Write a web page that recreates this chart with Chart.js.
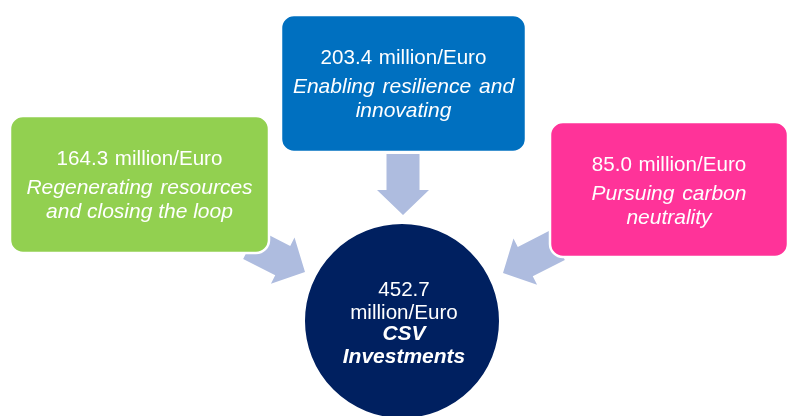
<!DOCTYPE html>
<html>
<head>
<meta charset="utf-8">
<script src="https://cdn.jsdelivr.net/npm/chart.js@4.4.1/dist/chart.umd.min.js"></script>
<style>
  html, body { margin: 0; padding: 0; background: #ffffff; }
  #wrap { width: 791px; height: 416px; }
</style>
</head>
<body>
<div id="wrap"><canvas id="csvChart" width="791" height="416"></canvas></div>
<script>
// CSV investment data (million/Euro)
const pillars = ['Regenerating resources and closing the loop', 'Enabling resilience and innovating', 'Pursuing carbon neutrality'];
const pillarLines = [['Regenerating resources', 'and closing the loop'], ['Enabling resilience and', 'innovating'], ['Pursuing carbon', 'neutrality']];
const amounts = [164.3, 203.4, 85.0];
const totalAmount = 452.7;
const totalLabel = ['CSV', 'Investments'];
const unit = 'million/Euro';
const colors = ['#92D050', '#0070C0', '#FF3399'];

// Layout of the diagram (in axis units == pixels of the 791x416 canvas)
const boxes = [
    { x0: 10, x1: 269, y0: 116, y1: 253 },
    { x0: 281, x1: 526, y0: 15, y1: 152 },
    { x0: 550, x1: 788, y0: 122, y1: 257 }
];
const arrows = [
    { tipX: 305, tipY: 272, angle: 27 },
    { tipX: 403, tipY: 215, angle: 90 },
    { tipX: 503, tipY: 273, angle: 153 }
];
const hub = { x: 402, y: 321, r: 98 };

const FONT = '"Liberation Sans", Arial, sans-serif';

function roundRect(ctx, x, y, w, h, r) {
    ctx.beginPath();
    ctx.moveTo(x + r, y);
    ctx.lineTo(x + w - r, y);
    ctx.arcTo(x + w, y, x + w, y + r, r);
    ctx.lineTo(x + w, y + h - r);
    ctx.arcTo(x + w, y + h, x + w - r, y + h, r);
    ctx.lineTo(x + r, y + h);
    ctx.arcTo(x, y + h, x, y + h - r, r);
    ctx.lineTo(x, y + r);
    ctx.arcTo(x, y, x + r, y, r);
    ctx.closePath();
}

const diagramPlugin = {
    id: 'diagram',
    beforeDatasetsDraw(chart) {
        const ctx = chart.ctx;
        const sx = chart.scales.x, sy = chart.scales.y;
        ctx.save();
        // arrows
        arrows.forEach(a => {
            const tx = sx.getPixelForValue(a.tipX), ty = sy.getPixelForValue(a.tipY);
            const L = 61, sw = 16.5, hw = 26, hl = 25;
            const pts = [[0, -sw], [L - hl, -sw], [L - hl, -hw], [L, 0], [L - hl, hw], [L - hl, sw], [0, sw]];
            const t = a.angle * Math.PI / 180, c = Math.cos(t), s = Math.sin(t);
            ctx.beginPath();
            pts.forEach((p, i) => {
                const lx = p[0] - L, ly = p[1];
                const px = tx + lx * c - ly * s, py = ty + lx * s + ly * c;
                if (i === 0) ctx.moveTo(px, py); else ctx.lineTo(px, py);
            });
            ctx.closePath();
            ctx.fillStyle = '#AEBCDF';
            ctx.fill();
        });
        // boxes
        boxes.forEach((b, i) => {
            const x0 = sx.getPixelForValue(b.x0), x1 = sx.getPixelForValue(b.x1);
            const y0 = sy.getPixelForValue(b.y0), y1 = sy.getPixelForValue(b.y1);
            roundRect(ctx, x0, y0, x1 - x0, y1 - y0, 13);
            ctx.fillStyle = colors[i];
            ctx.fill();
            ctx.lineWidth = 2.5;
            ctx.strokeStyle = '#ffffff';
            ctx.stroke();
        });
        ctx.restore();
    },
    afterDatasetsDraw(chart) {
        const ctx = chart.ctx;
        const sx = chart.scales.x, sy = chart.scales.y;
        ctx.save();
        ctx.fillStyle = '#ffffff';
        ctx.textAlign = 'center';
        ctx.textBaseline = 'alphabetic';
        boxes.forEach((b, i) => {
            const cx = sx.getPixelForValue((b.x0 + b.x1) / 2);
            const top = sy.getPixelForValue(b.y0);
            ctx.font = '20.6px ' + FONT;
            ctx.wordSpacing = '1px';
            ctx.fillText(amounts[i].toFixed(1) + ' ' + unit, cx, top + 49);
            ctx.font = 'italic 21px ' + FONT;
            pillarLines[i].forEach((line, k) => {
                // first line of each wrapped label is justified (slightly wider spaces)
                ctx.wordSpacing = k < pillarLines[i].length - 1 ? '2px' : '0px';
                ctx.fillText(line, cx, top + 78 + k * 24);
            });
        });
        ctx.wordSpacing = '0px';
        const hx = sx.getPixelForValue(hub.x) + 2, hy = sy.getPixelForValue(hub.y);
        ctx.font = '20.6px ' + FONT;
        ctx.fillText(totalAmount.toFixed(1), hx, hy - 25);
        ctx.fillText(unit, hx, hy - 2);
        ctx.font = 'italic bold 21px ' + FONT;
        ctx.fillText(totalLabel[0], hx, hy + 19);
        ctx.fillText(totalLabel[1], hx, hy + 42);
        ctx.restore();
    }
};

new Chart(document.getElementById('csvChart'), {
    type: 'bubble',
    data: {
        datasets: [{
            label: 'Total CSV Investments',
            data: [{ x: hub.x, y: hub.y, r: hub.r, v: totalAmount }],
            backgroundColor: '#002060',
            borderColor: '#ffffff',
            borderWidth: 2,
            clip: false
        }]
    },
    options: {
        responsive: false,
        animation: false,
        layout: { padding: 0, autoPadding: false },
        plugins: { legend: { display: false }, tooltip: { enabled: false } },
        scales: {
            x: { type: 'linear', min: 0, max: 791, display: false },
            y: { type: 'linear', min: 0, max: 416, reverse: true, display: false }
        }
    },
    plugins: [diagramPlugin]
});
</script>
</body>
</html>
